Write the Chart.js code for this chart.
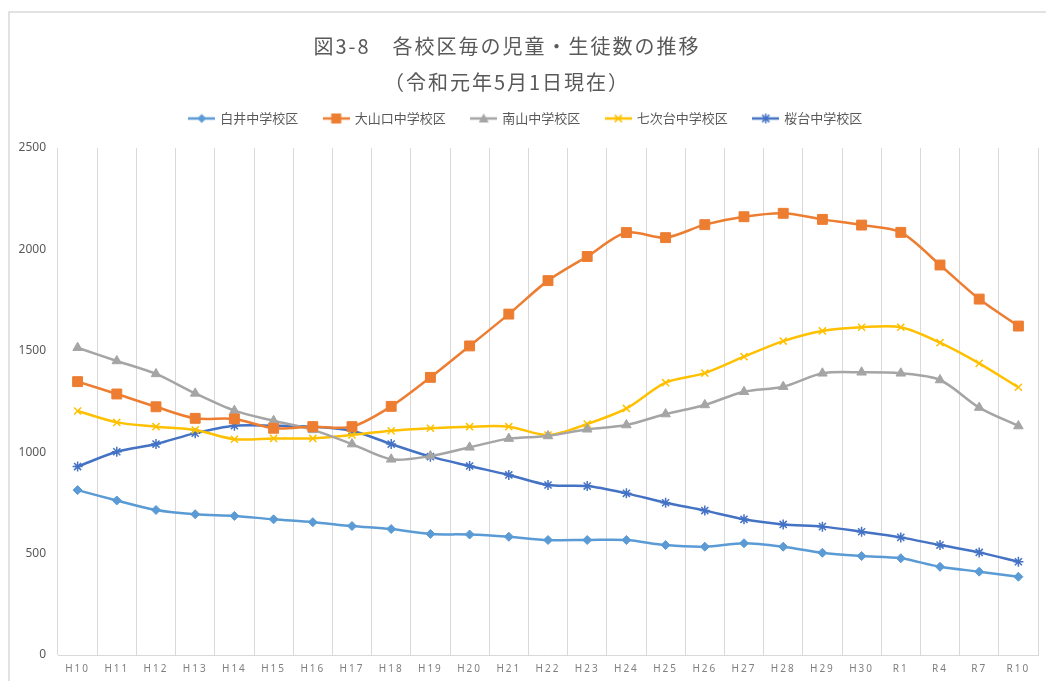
<!DOCTYPE html>
<html><head><meta charset="utf-8">
<script src="https://cdn.jsdelivr.net/npm/chart.js@4.4.1/dist/chart.umd.min.js"></script>
<style>html,body{margin:0;padding:0;background:#fff;}canvas{display:block;}</style>
</head><body>
<canvas id="c" width="1046" height="681"></canvas>
<script>
// ---- data ----
const titleLines = ['図3-8　各校区毎の児童・生徒数の推移', '（令和元年5月1日現在）'];
const categories = ['H10','H11','H12','H13','H14','H15','H16','H17','H18','H19','H20','H21','H22','H23','H24','H25','H26','H27','H28','H29','H30','R1','R4','R7','R10'];
const seriesNames = ['白井中学校区','大山口中学校区','南山中学校区','七次台中学校区','桜台中学校区'];
const shirai     = [813,762,715,694,686,669,655,636,621,597,594,583,567,567,567,542,534,551,534,504,488,477,435,411,386];
const oyamaguchi = [1348,1287,1224,1167,1164,1118,1126,1126,1226,1369,1524,1681,1846,1965,2083,2058,2122,2161,2178,2148,2120,2084,1923,1755,1622];
const minami     = [1515,1450,1386,1290,1205,1155,1110,1040,965,981,1024,1067,1080,1113,1134,1188,1233,1298,1323,1389,1394,1389,1356,1220,1129];
const nanatsugi  = [1203,1147,1126,1110,1064,1068,1068,1085,1106,1118,1126,1126,1085,1139,1216,1343,1390,1471,1548,1598,1616,1616,1540,1438,1320];
const sakuradai  = [929,1002,1040,1094,1131,1131,1126,1106,1040,978,932,888,838,833,797,751,712,669,644,633,608,580,542,506,460];
const yTicks = [0,500,1000,1500,2000,2500];

// ---- styles ----
const seriesValues = [shirai, oyamaguchi, minami, nanatsugi, sakuradai];
const seriesColors = ['#5B9BD5','#ED7D31','#A5A5A5','#FFC000','#4472C4'];
const seriesMarkers = [
  {style:'rectRot', r:4.5, bw:1},
  {style:'rect', r:7, bw:1},
  {style:'triangle', r:5.5, bw:1},
  {style:'crossRot', r:5, bw:1.5},
  {style:'star', r:5, bw:1.5}
];

function drawMarker(ctx, kind, x, y, color){
  ctx.save();
  ctx.fillStyle = color; ctx.strokeStyle = color;
  ctx.beginPath();
  if (kind === 'rectRot'){ const r=4.5; ctx.moveTo(x-r,y);ctx.lineTo(x,y-r);ctx.lineTo(x+r,y);ctx.lineTo(x,y+r);ctx.closePath();ctx.fill(); }
  else if (kind === 'rect'){ const s=5; ctx.rect(x-s,y-s,2*s,2*s); ctx.fill(); }
  else if (kind === 'triangle'){ ctx.moveTo(x,y-5);ctx.lineTo(x+5,y+4);ctx.lineTo(x-5,y+4);ctx.closePath();ctx.fill(); }
  else if (kind === 'crossRot'){ const r=3.6; ctx.lineWidth=1.5; ctx.moveTo(x-r,y-r);ctx.lineTo(x+r,y+r);ctx.moveTo(x+r,y-r);ctx.lineTo(x-r,y+r);ctx.stroke(); }
  else if (kind === 'star'){ const r=3.6; ctx.lineWidth=1.5; ctx.moveTo(x-r,y-r);ctx.lineTo(x+r,y+r);ctx.moveTo(x+r,y-r);ctx.lineTo(x-r,y+r);ctx.moveTo(x,y-5);ctx.lineTo(x,y+5);ctx.stroke(); }
  ctx.restore();
}
const legendImages = seriesColors.map((c,i)=>{
  const cv = document.createElement('canvas'); cv.width = 27; cv.height = 12;
  const g = cv.getContext('2d');
  g.strokeStyle = c; g.lineWidth = 2.5; g.beginPath(); g.moveTo(0,6); g.lineTo(27,6); g.stroke();
  drawMarker(g, seriesMarkers[i].style, 13.5, 6, c);
  return cv;
});

const datasets = seriesNames.map((name,i)=>({
  label: name,
  data: seriesValues[i],
  borderColor: seriesColors[i],
  backgroundColor: seriesColors[i],
  pointBackgroundColor: seriesColors[i],
  pointBorderColor: seriesColors[i],
  pointStyle: seriesMarkers[i].style,
  pointRadius: seriesMarkers[i].r,
  pointBorderWidth: seriesMarkers[i].bw,
  borderWidth: 2.5,
  tension: 0.3,
  fill: false
}));

const CJK = '"Noto Sans CJK JP", "Noto Sans", sans-serif';

const framePlugin = {
  id: 'frame',
  beforeLayout(chart){
    const lg = chart.legend;
    if (lg && !lg._wf){
      const f = lg.fit.bind(lg);
      lg.fit = function(){ f(); this.height = 62; };
      lg._wf = true;
    }
  },
  beforeDraw(chart){
    const ctx = chart.ctx;
    ctx.save();
    ctx.fillStyle = '#fff'; ctx.fillRect(0,0,chart.width,chart.height);
    ctx.strokeStyle = '#d9d9d9'; ctx.lineWidth = 1.5;
    ctx.beginPath(); ctx.moveTo(9, chart.height); ctx.lineTo(9, 12); ctx.lineTo(chart.width, 12); ctx.stroke();
    ctx.restore();
    const x = chart.scales.x;
    if (x && !x._ws){
      const o = x.drawLabels.bind(x);
      x.drawLabels = function(a){ const c = chart.ctx; c.save(); c.letterSpacing = '2px'; o(a); c.restore(); };
      x._ws = true;
    }
    const t = chart.titleBlock;
    if (t && !t._ws){
      const o = t.draw.bind(t);
      t.draw = function(a){ const c = chart.ctx; c.save(); c.letterSpacing = '2px'; c.translate(-19,0); o(a); c.restore(); };
      t._ws = true;
    }
  }
};

new Chart(document.getElementById('c'), {
  type: 'line',
  data: { labels: categories, datasets },
  plugins: [framePlugin],
  options: {
    responsive: false,
    animation: false,
    layout: { padding: { left: 10, right: 4, top: 0, bottom: 0 } },
    plugins: {
      title: {
        display: true,
        text: titleLines,
        color: '#595959',
        font: { family: CJK, size: 20, weight: 'normal', lineHeight: 1.8 },
        padding: { top: 28, bottom: -14 }
      },
      legend: {
        display: true,
        position: 'top',
        labels: {
          color: '#595959',
          font: { family: CJK, size: 13 },
          usePointStyle: true,
          pointStyleWidth: 24,
          padding: 26,
          generateLabels(chart){
            const items = Chart.defaults.plugins.legend.labels.generateLabels(chart);
            return items.map((it,i)=>Object.assign(it, { pointStyle: legendImages[i], rotation: 0 }));
          }
        }
      },
      tooltip: { enabled: false }
    },
    scales: {
      x: {
        type: 'category',
        offset: true,
        grid: { display: true, offset: true, color: '#d9d9d9', lineWidth: 1, drawTicks: false },
        border: { display: true, color: '#d9d9d9', width: 1 },
        ticks: { color: '#7f7f7f', font: { family: '"Noto Sans", sans-serif', size: 10 }, padding: 8, maxRotation: 0, autoSkip: false },
        afterFit(s){ s.height = 26; }
      },
      y: {
        min: 0, max: 2500,
        afterBuildTicks(s){ s.ticks = yTicks.map(v=>({value:v})); },
        grid: { display: false, drawTicks: false },
        border: { display: false },
        ticks: { color: '#595959', font: { family: '"Noto Sans", sans-serif', size: 12 }, padding: 12, callback: v => String(v) },
        afterFit(s){ s.width = 48; }
      }
    }
  }
});
</script>
</body></html>
